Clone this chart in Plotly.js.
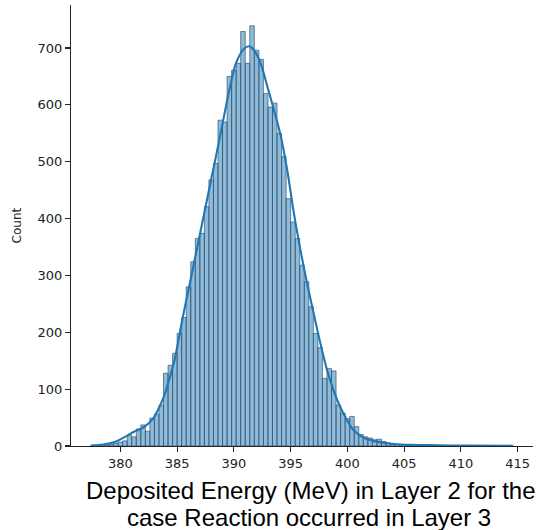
<!DOCTYPE html>
<html>
<head>
<meta charset="utf-8">
<script src="https://cdn.plot.ly/plotly-3.0.1.min.js"></script>
<style>html,body{margin:0;padding:0;background:#fff;}#chart{width:537px;height:530px;}</style>
</head>
<body>
<div id="chart"></div>
<script>
// Histogram bins: start 377.4 MeV, width 0.4 MeV
const binStart = 377.4;
const binWidth = 0.4;
const counts = [
  1, 1, 2, 2, 3, 5, 7, 9, 19, 16,
  30, 37, 26, 49, 56, 72, 128, 142, 163, 198,
  226, 280, 324, 365, 374, 421, 468, 497, 573, 570,
  650, 661, 673, 729, 673, 739, 696, 680, 620, 596,
  603, 550, 509, 435, 394, 365, 318, 289, 245, 198,
  173, 119, 136, 132, 72, 58, 48, 52, 34, 20,
  16, 14, 11, 12, 8, 5, 4, 3, 3, 2,
  2, 1, 2, 1, 1, 0, 1, 1, 0, 1,
  0, 0, 1, 0, 0, 1, 0, 0, 0, 0,
  0, 0, 1
];
// KDE curve
const kdeX = [377.4, 378.5, 379.5, 380.4, 381.2, 381.9, 382.5, 382.9, 383.3, 383.8,
  384.2, 384.8, 385.5, 386.4, 387.0, 387.55, 388.0, 388.43, 389.01, 389.6,
  390.18, 390.91, 391.35, 391.78, 392.36, 392.95, 393.53, 394.11, 394.7, 395.28,
  395.86, 396.45, 397.03, 397.61, 398.2, 398.78, 399.36, 399.95, 400.53, 401.41,
  402.28, 403.45, 404.32, 405.5, 407.0, 409.0, 411.0, 414.5];
const kdeY = [0.8, 2.5, 7, 16, 25, 31, 40, 49, 63, 85,
  110, 154, 227, 313, 372, 425, 469, 510, 568, 626,
  673, 699, 703, 696, 673, 632, 591, 547, 485, 410,
  345, 286, 233, 181, 134, 98, 69, 46, 28, 15,
  9, 5, 3, 2, 1.5, 1, 0.6, 0.3];
const xTicks = [380, 385, 390, 395, 400, 405, 410, 415];
const yTicks = [0, 100, 200, 300, 400, 500, 600, 700];
const xTitleLines = ["Deposited Energy (MeV) in Layer 2 for the", "case Reaction occurred in Layer 3"];
const yTitle = "Count";

const binCenters = counts.map((_, i) => binStart + binWidth * (i + 0.5));

const bars = {
  type: 'bar',
  x: binCenters,
  y: counts,
  width: binWidth,
  marker: {color: 'rgba(31,119,180,0.5)', line: {color: 'rgba(50,80,110,0.75)', width: 0.9}},
  hoverinfo: 'x+y'
};
const kde = {
  type: 'scatter',
  mode: 'lines',
  x: kdeX,
  y: kdeY,
  line: {color: '#1f77b4', width: 2.1, shape: 'spline', smoothing: 0.8}
};

const tickFont = {family: 'DejaVu Sans, sans-serif', size: 13, color: '#222'};
const titleFont = {family: 'Liberation Sans, Arial, sans-serif', size: 24, color: '#000'};
const layout = {
  width: 537, height: 530,
  margin: {l: 71, r: 4, t: 5, b: 84},
  paper_bgcolor: '#fff', plot_bgcolor: '#fff',
  showlegend: false,
  bargap: 0,
  xaxis: {
    range: [375.65, 416.35],
    tickvals: xTicks, ticktext: xTicks.map(String),
    ticks: 'outside', ticklen: 5, tickwidth: 1.1, tickcolor: '#222',
    showline: true, linecolor: '#222', linewidth: 1.1,
    showgrid: false, zeroline: false,
    tickfont: tickFont
  },
  yaxis: {
    range: [0, 775.6],
    tickvals: yTicks, ticktext: yTicks.map(String),
    ticks: 'outside', ticklen: 5, tickwidth: 1.1, tickcolor: '#222',
    showline: true, linecolor: '#222', linewidth: 1.1,
    showgrid: false, zeroline: false,
    tickfont: tickFont
  },
  annotations: [
    {text: xTitleLines[0], xref: 'paper', yref: 'paper', x: 0.519, y: -0.1,
     xanchor: 'center', yanchor: 'middle', showarrow: false, font: titleFont},
    {text: xTitleLines[1], xref: 'paper', yref: 'paper', x: 0.516, y: -0.161,
     xanchor: 'center', yanchor: 'middle', showarrow: false, font: titleFont},
    {text: yTitle, xref: 'paper', yref: 'paper', x: -0.117, y: 0.50,
     xanchor: 'center', yanchor: 'middle', textangle: -90, showarrow: false,
     font: {family: 'DejaVu Sans, sans-serif', size: 12, color: '#222'}}
  ]
};

Plotly.newPlot('chart', [bars, kde], layout, {displayModeBar: false, staticPlot: true});
</script>
</body>
</html>
